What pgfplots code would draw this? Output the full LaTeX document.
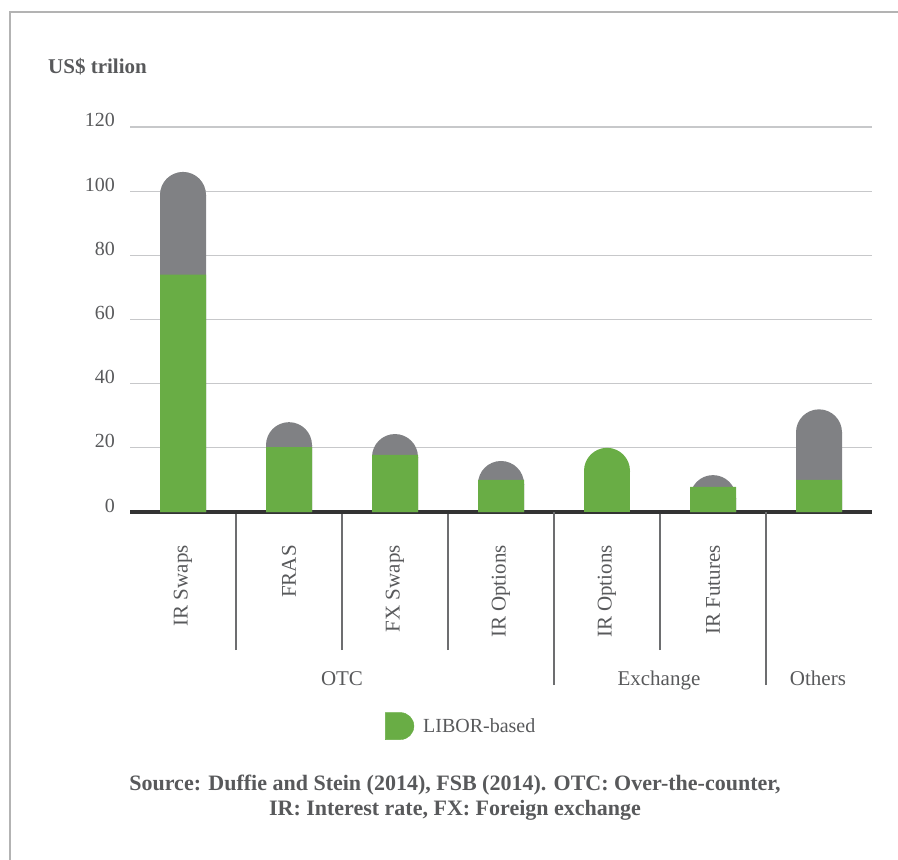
\documentclass[border=0pt]{standalone}
\usepackage{fontspec}
\setmainfont{Liberation Serif}
\usepackage{pgfplots}
\usepackage{pgfplotstable}
\pgfplotsset{compat=1.18}
\definecolor{libgreen}{HTML}{69AD45}
\definecolor{totgray}{HTML}{808184}
\definecolor{txtgray}{HTML}{58595B}
\definecolor{gridgray}{HTML}{C7C8CA}
\definecolor{framegray}{HTML}{B3B3B3}
\definecolor{axisdark}{HTML}{333333}
\definecolor{divgray}{HTML}{6D6E70}

\pgfdeclareplotmark{halfdisk}{%
  \pgfpathmoveto{\pgfqpoint{\pgfplotmarksize}{-0.8pt}}%
  \pgfpathlineto{\pgfqpoint{\pgfplotmarksize}{0pt}}%
  \pgfpatharc{0}{180}{\pgfplotmarksize}%
  \pgfpathlineto{\pgfqpoint{-\pgfplotmarksize}{-0.8pt}}%
  \pgfpathclose
  \pgfusepathqfill}

% pos, LIBOR-based amount, total (top of rounded bar), base of the rounded cap (total - cap radius)
\pgfplotstableread{
pos libor total capbase
0 74.0 106.0 98.83
1 20.2 28.0 20.83
2 17.8 24.3 17.13
3 10.0 15.9 8.73
5 7.8 11.5 4.33
6 10.0 32.0 24.83
}\mixed
\pgfplotstableread{
pos libor capbase
4 20.0 12.83
}\allibor

\begin{document}
\begin{tikzpicture}
\path[use as bounding box] (0,0) rectangle (898bp,860bp);
\draw[framegray, line width=2bp] (10bp,0) -- (10bp,848bp) -- (898bp,848bp);
\begin{axis}[
  at={(130bp,348bp)}, anchor=south west,
  scale only axis, width=742bp, height=385bp,
  xmin=-0.5, xmax=6.5, ymin=0, ymax=120,
  clip=false, clip marker paths=true,
  axis x line*=bottom, axis y line*=left,
  x axis line style={draw=axisdark, line width=3bp},
  y axis line style={draw=none},
  ytick={0,20,...,120},
  ymajorgrids, grid style={draw=gridgray, line width=1.3bp},
  ytick style={draw=none},
  yticklabel style={anchor=base east, inner sep=0pt, text=txtgray,
    font=\fontsize{20bp}{24bp}\selectfont},
  yticklabel shift=15bp,
  /pgf/number format/assume math mode=true,
  xtick={0,...,6},
  xticklabels={IR Swaps, FRAS, FX Swaps, IR Options, IR Options, IR Futures, {}},
  xticklabel style={rotate=90, anchor=east, inner sep=0pt, text=txtgray,
    font=\fontsize{21bp}{24bp}\selectfont},
  xticklabel shift=33bp,
  tick align=outside,
  major tick length=0pt,
  minor xtick={0.5,1.5,2.5,4.5},
  minor tick length=138bp,
  minor x tick style={draw=divgray, line width=1.5bp},
  extra x ticks={3.5,5.5},
  extra x tick labels={},
  extra x tick style={major tick length=173bp, tick style={draw=divgray, line width=1.5bp}},
  legend style={draw=none, fill=none, at={(axis description cs:0.3437,-0.556)},
    anchor=west, inner sep=0pt,
    nodes={text=txtgray, font=\fontsize{20bp}{24bp}\selectfont}},
  legend cell align=left,
]
% gray totals: rectangle part plus rounded cap
\addplot[ybar, bar width=46bp, bar shift=0pt, fill=totgray, draw=none, forget plot]
  table[x=pos, y=capbase] {\mixed};
\addplot[only marks, mark=halfdisk, mark size=23bp, color=totgray, forget plot]
  table[x=pos, y=capbase] {\mixed};
% LIBOR-based
\addplot[ybar, bar width=46bp, bar shift=0pt, fill=libgreen, draw=none, forget plot]
  table[x=pos, y=libor] {\mixed};
\addplot[ybar, bar width=46bp, bar shift=0pt, fill=libgreen, draw=none, forget plot]
  table[x=pos, y=capbase] {\allibor};
\addplot[only marks, mark=halfdisk, mark size=23bp, color=libgreen, forget plot]
  table[x=pos, y=capbase] {\allibor};
\addlegendimage{legend image code/.code={%
  \fill[libgreen] (0bp,-13.5bp) -- (15bp,-13.5bp)
    arc[start angle=-90, end angle=90, radius=13.5bp] -- (0bp,13.5bp) -- cycle;}}
\addlegendentry{\hspace{7bp}LIBOR-based}
% group labels
\node[anchor=base, text=txtgray, font=\fontsize{21bp}{24bp}\selectfont] at (axis cs:1.5,-54.2) {OTC};
\node[anchor=base, text=txtgray, font=\fontsize{21bp}{24bp}\selectfont] at (axis cs:4.49,-54.2) {Exchange};
\node[anchor=base, text=txtgray, font=\fontsize{21bp}{24bp}\selectfont] at (axis cs:5.99,-54.2) {Others};
% y unit label
\node[anchor=base west, inner sep=0pt, text=txtgray, font=\bfseries\fontsize{21bp}{24bp}\selectfont]
  at (axis description cs:-0.1105,1.140) {US\$ trilion};
% source note
\node[anchor=north, align=center, inner sep=0pt, text=txtgray, font=\bfseries\fontsize{22bp}{25bp}\selectfont]
  at (axis description cs:0.438,-0.683) {Source: Duffie and Stein (2014), FSB (2014). OTC: Over-the-counter,\\IR: Interest rate, FX: Foreign exchange};
\end{axis}
\end{tikzpicture}
\end{document}
